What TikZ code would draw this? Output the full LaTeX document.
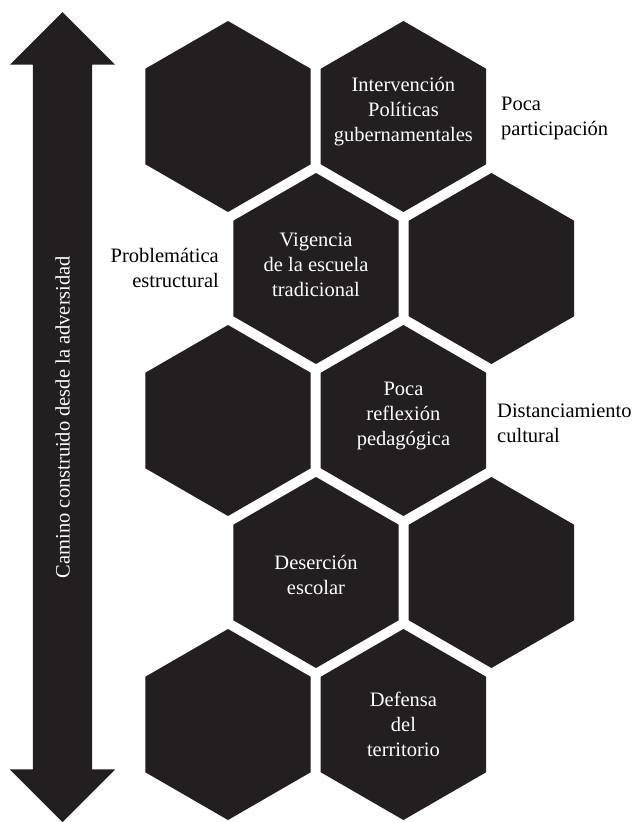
\documentclass[tikz,border=0pt]{standalone}
\usepackage{fontspec}
\setmainfont{Liberation Serif}
\usetikzlibrary{positioning,shapes.geometric,shapes.arrows}
\definecolor{hexblack}{HTML}{231F20}
\tikzstyle{hexbox}=[regular polygon, regular polygon sides=6, shape border rotate=30,
                    fill=hexblack, minimum size=191pt, inner sep=0pt, outer sep=0pt]
\tikzstyle{hextxt}=[inner sep=0pt, text=white, align=center,
                    font=\fontsize{20.5}{25}\selectfont]
\tikzstyle{sidetxt}=[inner sep=0pt, text=black, font=\fontsize{20.5}{25}\selectfont]
\tikzstyle{patharrow}=[double arrow, fill=hexblack, rotate=90, text=white,
                    minimum height=810pt, minimum width=105pt,
                    double arrow tip angle=90, double arrow head extend=23pt,
                    text height=14pt, text depth=0pt, inner ysep=22.5pt,
                    font=\fontsize{20.5}{25}\selectfont]

\begin{document}
\begin{tikzpicture}[x=1pt,y=-1pt,node distance=10pt]
\useasboundingbox (0,0) rectangle (639,822);

\node (CAMINO) [patharrow] at (62.5,417) {Camino construido desde la adversidad};

\node (HEXA) [hexbox] at (228,116.5) {};
\node (INTPOL) [hexbox,right=of HEXA] {};
\node (INTPOLtxt) [hextxt] at ([yshift=4.5pt]INTPOL.center) {Intervención\\Políticas\\gubernamentales};
\node (POCPAR) [sidetxt,anchor=west,align=left] at (501,118) {Poca\\participación};

\node (VIGESC) [hexbox] at (316,268.5) {};
\node (VIGESCtxt) [hextxt] at ([yshift=3.5pt]VIGESC.center) {Vigencia\\de la escuela\\tradicional};
\node (HEXB) [hexbox,right=of VIGESC] {};
\node (PROEST) [sidetxt,anchor=east,align=right] at (219,268) {Problemática\\estructural};

\node (HEXC) [hexbox] at (228,420.5) {};
\node (REFPED) [hexbox,right=of HEXC] {};
\node (REFPEDtxt) [hextxt] at ([yshift=4.5pt]REFPED.center) {Poca\\reflexión\\pedagógica};
\node (DISCUL) [sidetxt,anchor=west,align=left] at (497,423) {Distanciamiento\\cultural};

\node (DESESC) [hexbox] at (316,572.5) {};
\node (DESESCtxt) [hextxt] at ([yshift=-2.5pt]DESESC.center) {Deserción\\escolar};
\node (HEXD) [hexbox,right=of DESESC] {};

\node (HEXE) [hexbox] at (228,724.5) {};
\node (DEFTER) [hexbox,right=of HEXE] {};
\node (DEFTERtxt) [hextxt] at (DEFTER.center) {Defensa\\del\\territorio};

\end{tikzpicture}
\end{document}
